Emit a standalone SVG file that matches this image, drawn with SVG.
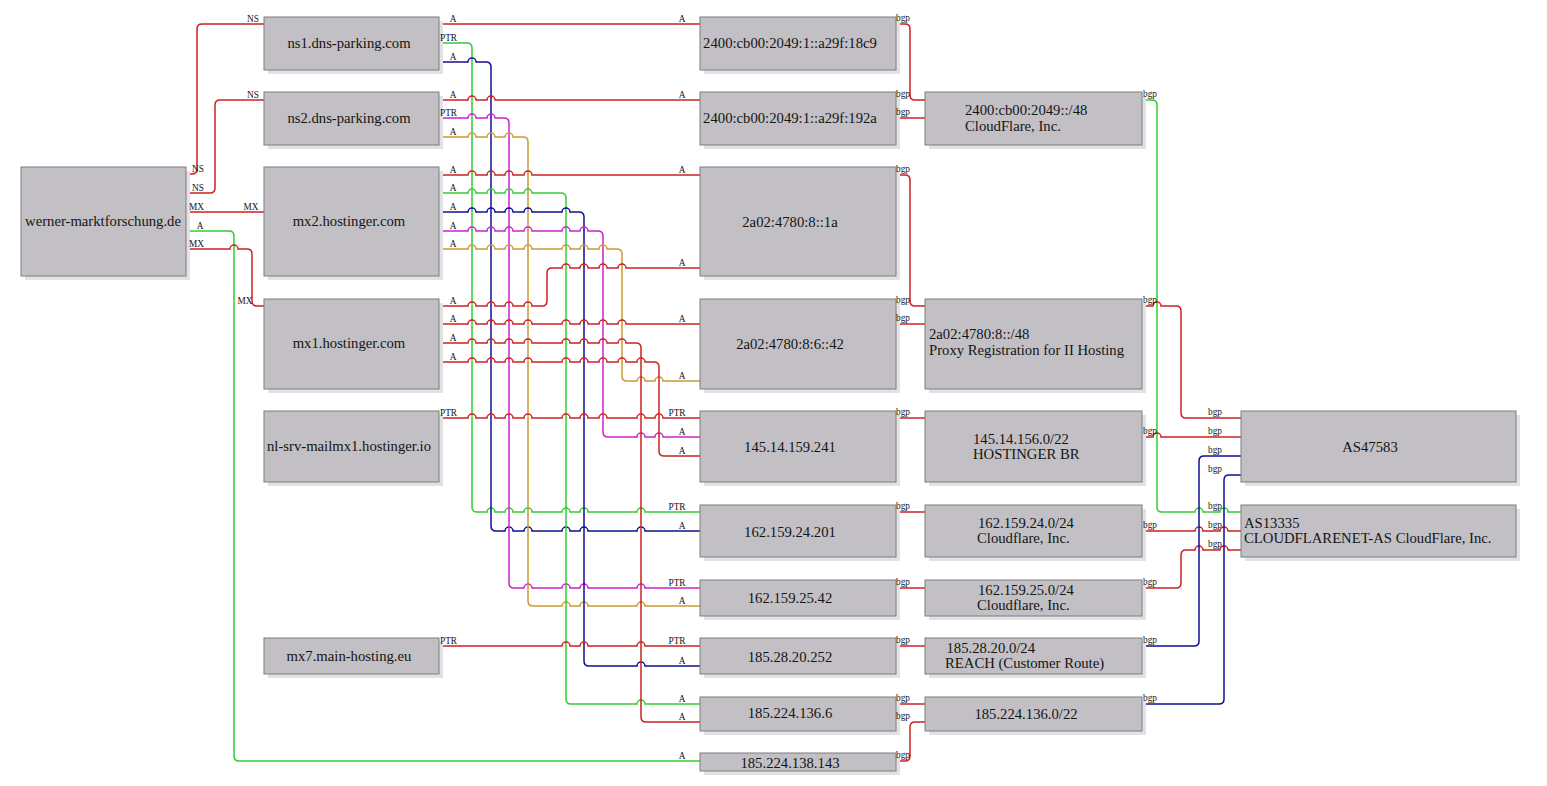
<svg xmlns="http://www.w3.org/2000/svg" width="1547" height="786" viewBox="0 0 1547 786">
<style>
.sh{fill:#e2e2e6}
.bx{fill:#c2c0c4;stroke:#7c7c7c;stroke-width:1}
text{font-family:"Liberation Serif","Times New Roman",serif;fill:#141414}
.n{font-size:14.7px}
.m{text-anchor:middle}
.e{font-size:9.3px;text-anchor:middle}
#connectors path{fill:none;stroke-width:1.5}
.r{stroke:#cc2222}
.g{stroke:#33cc33}
.b{stroke:#101090}
.p{stroke:#cc22cc}
.o{stroke:#cc9933}
</style>
<rect width="1547" height="786" fill="#ffffff"/>
<g id="connectors">
<path class="r" d="M186,174 H192 Q197,174 197,169 V29 Q197,24 202,24 H264"/>
<path class="r" d="M186,193 H210 Q215,193 215,188 V105 Q215,100 220,100 H264"/>
<path class="r" d="M186,212 H264"/>
<path class="g" d="M186,231 H229 Q234,231 234,236 V756 Q234,761 239,761 H700"/>
<path class="r" d="M186,249 H230 a4,4 0 0 1 8,0 H247 Q252,249 252,254 V301 Q252,306 257,306 H264"/>
<path class="r" d="M439,24 H700"/>
<path class="g" d="M439,43 H467 Q472,43 472,48 V507 Q472,512 477,512 H487 a4,4 0 0 1 8,0 H505 a4,4 0 0 1 8,0 H524 a4,4 0 0 1 8,0 H562 a4,4 0 0 1 8,0 H580 a4,4 0 0 1 8,0 H637 a4,4 0 0 1 8,0 H700"/>
<path class="b" d="M439,62 H468 a4,4 0 0 1 8,0 H486 Q491,62 491,67 V526 Q491,531 496,531 H505 a4,4 0 0 1 8,0 H524 a4,4 0 0 1 8,0 H562 a4,4 0 0 1 8,0 H580 a4,4 0 0 1 8,0 H637 a4,4 0 0 1 8,0 H700"/>
<path class="r" d="M439,100 H468 a4,4 0 0 1 8,0 H487 a4,4 0 0 1 8,0 H700"/>
<path class="p" d="M439,118 H468 a4,4 0 0 1 8,0 H487 a4,4 0 0 1 8,0 H504 Q509,118 509,123 V583 Q509,588 514,588 H524 a4,4 0 0 1 8,0 H562 a4,4 0 0 1 8,0 H580 a4,4 0 0 1 8,0 H637 a4,4 0 0 1 8,0 H700"/>
<path class="o" d="M439,137 H468 a4,4 0 0 1 8,0 H487 a4,4 0 0 1 8,0 H505 a4,4 0 0 1 8,0 H523 Q528,137 528,142 V601 Q528,606 533,606 H562 a4,4 0 0 1 8,0 H580 a4,4 0 0 1 8,0 H637 a4,4 0 0 1 8,0 H700"/>
<path class="r" d="M439,175 H468 a4,4 0 0 1 8,0 H487 a4,4 0 0 1 8,0 H505 a4,4 0 0 1 8,0 H524 a4,4 0 0 1 8,0 H700"/>
<path class="g" d="M439,193 H468 a4,4 0 0 1 8,0 H487 a4,4 0 0 1 8,0 H505 a4,4 0 0 1 8,0 H524 a4,4 0 0 1 8,0 H561 Q566,193 566,198 V699 Q566,704 571,704 H637 a4,4 0 0 1 8,0 H700"/>
<path class="b" d="M439,212 H468 a4,4 0 0 1 8,0 H487 a4,4 0 0 1 8,0 H505 a4,4 0 0 1 8,0 H524 a4,4 0 0 1 8,0 H562 a4,4 0 0 1 8,0 H579 Q584,212 584,217 V661 Q584,666 589,666 H637 a4,4 0 0 1 8,0 H700"/>
<path class="p" d="M439,231 H468 a4,4 0 0 1 8,0 H487 a4,4 0 0 1 8,0 H505 a4,4 0 0 1 8,0 H524 a4,4 0 0 1 8,0 H562 a4,4 0 0 1 8,0 H580 a4,4 0 0 1 8,0 H598 Q603,231 603,236 V432 Q603,437 608,437 H637 a4,4 0 0 1 8,0 H655 a4,4 0 0 1 8,0 H700"/>
<path class="o" d="M439,249 H468 a4,4 0 0 1 8,0 H487 a4,4 0 0 1 8,0 H505 a4,4 0 0 1 8,0 H524 a4,4 0 0 1 8,0 H562 a4,4 0 0 1 8,0 H580 a4,4 0 0 1 8,0 H599 a4,4 0 0 1 8,0 H617 Q622,249 622,254 V376 Q622,381 627,381 H637 a4,4 0 0 1 8,0 H655 a4,4 0 0 1 8,0 H700"/>
<path class="r" d="M439,306 H468 a4,4 0 0 1 8,0 H487 a4,4 0 0 1 8,0 H505 a4,4 0 0 1 8,0 H524 a4,4 0 0 1 8,0 H542 Q547,306 547,301 V273 Q547,268 552,268 H562 a4,4 0 0 1 8,0 H580 a4,4 0 0 1 8,0 H599 a4,4 0 0 1 8,0 H618 a4,4 0 0 1 8,0 H700"/>
<path class="r" d="M439,324 H468 a4,4 0 0 1 8,0 H487 a4,4 0 0 1 8,0 H505 a4,4 0 0 1 8,0 H524 a4,4 0 0 1 8,0 H562 a4,4 0 0 1 8,0 H580 a4,4 0 0 1 8,0 H599 a4,4 0 0 1 8,0 H618 a4,4 0 0 1 8,0 H700"/>
<path class="r" d="M439,343 H468 a4,4 0 0 1 8,0 H487 a4,4 0 0 1 8,0 H505 a4,4 0 0 1 8,0 H524 a4,4 0 0 1 8,0 H562 a4,4 0 0 1 8,0 H580 a4,4 0 0 1 8,0 H599 a4,4 0 0 1 8,0 H618 a4,4 0 0 1 8,0 H636 Q641,343 641,348 V717 Q641,722 646,722 H700"/>
<path class="r" d="M439,362 H468 a4,4 0 0 1 8,0 H487 a4,4 0 0 1 8,0 H505 a4,4 0 0 1 8,0 H524 a4,4 0 0 1 8,0 H562 a4,4 0 0 1 8,0 H580 a4,4 0 0 1 8,0 H599 a4,4 0 0 1 8,0 H618 a4,4 0 0 1 8,0 H637 a4,4 0 0 1 8,0 H654 Q659,362 659,367 V451 Q659,456 664,456 H700"/>
<path class="r" d="M439,418 H468 a4,4 0 0 1 8,0 H487 a4,4 0 0 1 8,0 H505 a4,4 0 0 1 8,0 H524 a4,4 0 0 1 8,0 H562 a4,4 0 0 1 8,0 H580 a4,4 0 0 1 8,0 H599 a4,4 0 0 1 8,0 H637 a4,4 0 0 1 8,0 H655 a4,4 0 0 1 8,0 H700"/>
<path class="r" d="M439,646 H562 a4,4 0 0 1 8,0 H580 a4,4 0 0 1 8,0 H637 a4,4 0 0 1 8,0 H700"/>
<path class="r" d="M896,24 H905 Q910,24 910,29 V95 Q910,100 915,100 H925"/>
<path class="r" d="M896,118 H925"/>
<path class="r" d="M896,175 H905 Q910,175 910,180 V301 Q910,306 915,306 H925"/>
<path class="r" d="M896,324 H925"/>
<path class="r" d="M896,418 H925"/>
<path class="r" d="M896,512 H925"/>
<path class="r" d="M896,588 H925"/>
<path class="r" d="M896,646 H925"/>
<path class="r" d="M896,704 H925"/>
<path class="r" d="M896,761 H905 Q910,761 910,756 V727 Q910,722 915,722 H925"/>
<path class="g" d="M1142,100 H1152 Q1157,100 1157,105 V507 Q1157,512 1162,512 H1195 a4,4 0 0 1 8,0 H1220 a4,4 0 0 1 8,0 H1241"/>
<path class="r" d="M1142,306 H1153 a4,4 0 0 1 8,0 H1176 Q1181,306 1181,311 V413 Q1181,418 1186,418 H1241"/>
<path class="r" d="M1142,437 H1153 a4,4 0 0 1 8,0 H1241"/>
<path class="r" d="M1142,531 H1195 a4,4 0 0 1 8,0 H1220 a4,4 0 0 1 8,0 H1241"/>
<path class="r" d="M1142,588 H1176 Q1181,588 1181,583 V555 Q1181,550 1186,550 H1195 a4,4 0 0 1 8,0 H1220 a4,4 0 0 1 8,0 H1241"/>
<path class="b" d="M1142,646 H1194 Q1199,646 1199,641 V461 Q1199,456 1204,456 H1241"/>
<path class="b" d="M1142,704 H1219 Q1224,704 1224,699 V480 Q1224,475 1229,475 H1241"/>
</g>
<g id="werner"><rect class="sh" x="25" y="171" width="165" height="109"/><rect class="bx" x="21" y="167" width="165" height="109"/><text class="n m" x="103" y="226">werner-marktforschung.de</text></g>
<g id="ns1"><rect class="sh" x="268" y="21" width="175" height="53"/><rect class="bx" x="264" y="17" width="175" height="53"/><text class="n m" x="349" y="48">ns1.dns-parking.com</text></g>
<g id="ns2"><rect class="sh" x="268" y="96" width="175" height="53"/><rect class="bx" x="264" y="92" width="175" height="53"/><text class="n m" x="349" y="123">ns2.dns-parking.com</text></g>
<g id="mx2"><rect class="sh" x="268" y="171" width="175" height="109"/><rect class="bx" x="264" y="167" width="175" height="109"/><text class="n m" x="349" y="226">mx2.hostinger.com</text></g>
<g id="mx1"><rect class="sh" x="268" y="303" width="175" height="90"/><rect class="bx" x="264" y="299" width="175" height="90"/><text class="n m" x="349" y="348">mx1.hostinger.com</text></g>
<g id="nlsrv"><rect class="sh" x="268" y="415" width="175" height="71"/><rect class="bx" x="264" y="411" width="175" height="71"/><text class="n m" x="349" y="451">nl-srv-mailmx1.hostinger.io</text></g>
<g id="mx7"><rect class="sh" x="268" y="642" width="175" height="36"/><rect class="bx" x="264" y="638" width="175" height="36"/><text class="n m" x="349" y="661">mx7.main-hosting.eu</text></g>
<g id="ip6-18c9"><rect class="sh" x="704" y="21" width="196" height="53"/><rect class="bx" x="700" y="17" width="196" height="53"/><text class="n m" x="790" y="48">2400:cb00:2049:1::a29f:18c9</text></g>
<g id="ip6-192a"><rect class="sh" x="704" y="96" width="196" height="53"/><rect class="bx" x="700" y="92" width="196" height="53"/><text class="n m" x="790" y="123">2400:cb00:2049:1::a29f:192a</text></g>
<g id="ip6-1a"><rect class="sh" x="704" y="171" width="196" height="109"/><rect class="bx" x="700" y="167" width="196" height="109"/><text class="n m" x="790" y="227">2a02:4780:8::1a</text></g>
<g id="ip6-42"><rect class="sh" x="704" y="303" width="196" height="90"/><rect class="bx" x="700" y="299" width="196" height="90"/><text class="n m" x="790" y="349">2a02:4780:8:6::42</text></g>
<g id="ip-145-241"><rect class="sh" x="704" y="415" width="196" height="71"/><rect class="bx" x="700" y="411" width="196" height="71"/><text class="n m" x="790" y="452">145.14.159.241</text></g>
<g id="ip-162-201"><rect class="sh" x="704" y="509" width="196" height="52"/><rect class="bx" x="700" y="505" width="196" height="52"/><text class="n m" x="790" y="537">162.159.24.201</text></g>
<g id="ip-162-42"><rect class="sh" x="704" y="584" width="196" height="36"/><rect class="bx" x="700" y="580" width="196" height="36"/><text class="n m" x="790" y="603">162.159.25.42</text></g>
<g id="ip-185-252"><rect class="sh" x="704" y="642" width="196" height="36"/><rect class="bx" x="700" y="638" width="196" height="36"/><text class="n m" x="790" y="662">185.28.20.252</text></g>
<g id="ip-185-6"><rect class="sh" x="704" y="701" width="196" height="34"/><rect class="bx" x="700" y="697" width="196" height="34"/><text class="n m" x="790" y="718">185.224.136.6</text></g>
<g id="ip-185-143"><rect class="sh" x="704" y="757" width="196" height="18"/><rect class="bx" x="700" y="753" width="196" height="18"/><text class="n m" x="790" y="768">185.224.138.143</text></g>
<g id="pfx-2400"><rect class="sh" x="929" y="96" width="217" height="53"/><rect class="bx" x="925" y="92" width="217" height="53"/><text class="n" x="965" y="115">2400:cb00:2049::/48</text><text class="n" x="965" y="131">CloudFlare, Inc.</text></g>
<g id="pfx-2a02"><rect class="sh" x="929" y="303" width="217" height="90"/><rect class="bx" x="925" y="299" width="217" height="90"/><text class="n" x="929" y="339">2a02:4780:8::/48</text><text class="n" x="929" y="355">Proxy Registration for II Hosting</text></g>
<g id="pfx-145"><rect class="sh" x="929" y="415" width="217" height="71"/><rect class="bx" x="925" y="411" width="217" height="71"/><text class="n" x="973" y="444">145.14.156.0/22</text><text class="n" x="973" y="459">HOSTINGER BR</text></g>
<g id="pfx-162-24"><rect class="sh" x="929" y="509" width="217" height="52"/><rect class="bx" x="925" y="505" width="217" height="52"/><text class="n" x="978" y="528">162.159.24.0/24</text><text class="n" x="977" y="543">Cloudflare, Inc.</text></g>
<g id="pfx-162-25"><rect class="sh" x="929" y="584" width="217" height="36"/><rect class="bx" x="925" y="580" width="217" height="36"/><text class="n" x="978" y="595">162.159.25.0/24</text><text class="n" x="977" y="610">Cloudflare, Inc.</text></g>
<g id="pfx-185-28"><rect class="sh" x="929" y="642" width="217" height="36"/><rect class="bx" x="925" y="638" width="217" height="36"/><text class="n" x="946.5" y="653">185.28.20.0/24</text><text class="n" x="945" y="668">REACH (Customer Route)</text></g>
<g id="pfx-185-224"><rect class="sh" x="929" y="701" width="217" height="34"/><rect class="bx" x="925" y="697" width="217" height="34"/><text class="n m" x="1026" y="719">185.224.136.0/22</text></g>
<g id="as47583"><rect class="sh" x="1245" y="415" width="275" height="71"/><rect class="bx" x="1241" y="411" width="275" height="71"/><text class="n m" x="1370" y="452">AS47583</text></g>
<g id="as13335"><rect class="sh" x="1245" y="509" width="275" height="52"/><rect class="bx" x="1241" y="505" width="275" height="52"/><text class="n" x="1244" y="528">AS13335</text><text class="n" x="1244" y="543">CLOUDFLARENET-AS CloudFlare, Inc.</text></g>
<g id="edge-labels">
<text class="e" x="198" y="172">NS</text><text class="e" x="253" y="22">NS</text>
<text class="e" x="198" y="191">NS</text><text class="e" x="253" y="98">NS</text>
<text class="e" x="196.5" y="210">MX</text><text class="e" x="251" y="210">MX</text>
<text class="e" x="200" y="229">A</text><text class="e" x="682" y="759">A</text>
<text class="e" x="196.5" y="247">MX</text><text class="e" x="245" y="304">MX</text>
<text class="e" x="453" y="22">A</text><text class="e" x="682" y="22">A</text>
<text class="e" x="448.5" y="41">PTR</text><text class="e" x="677" y="510">PTR</text>
<text class="e" x="453" y="60">A</text><text class="e" x="682" y="529">A</text>
<text class="e" x="453" y="98">A</text><text class="e" x="682" y="98">A</text>
<text class="e" x="448.5" y="116">PTR</text><text class="e" x="677" y="586">PTR</text>
<text class="e" x="453" y="135">A</text><text class="e" x="682" y="604">A</text>
<text class="e" x="453" y="173">A</text><text class="e" x="682" y="173">A</text>
<text class="e" x="453" y="191">A</text><text class="e" x="682" y="702">A</text>
<text class="e" x="453" y="210">A</text><text class="e" x="682" y="664">A</text>
<text class="e" x="453" y="229">A</text><text class="e" x="682" y="435">A</text>
<text class="e" x="453" y="247">A</text><text class="e" x="682" y="379">A</text>
<text class="e" x="453" y="304">A</text><text class="e" x="682" y="266">A</text>
<text class="e" x="453" y="322">A</text><text class="e" x="682" y="322">A</text>
<text class="e" x="453" y="341">A</text><text class="e" x="682" y="720">A</text>
<text class="e" x="453" y="360">A</text><text class="e" x="682" y="454">A</text>
<text class="e" x="448.5" y="416">PTR</text><text class="e" x="677" y="416">PTR</text>
<text class="e" x="448.5" y="644">PTR</text><text class="e" x="677" y="644">PTR</text>
<text class="e" x="903" y="21">bgp</text><text class="e" x="903" y="97">bgp</text>
<text class="e" x="903" y="115">bgp</text>
<text class="e" x="903" y="172">bgp</text><text class="e" x="903" y="303">bgp</text>
<text class="e" x="903" y="321">bgp</text>
<text class="e" x="903" y="415">bgp</text>
<text class="e" x="903" y="509">bgp</text>
<text class="e" x="903" y="585">bgp</text>
<text class="e" x="903" y="643">bgp</text>
<text class="e" x="903" y="701">bgp</text>
<text class="e" x="903" y="758">bgp</text><text class="e" x="903" y="719">bgp</text>
<text class="e" x="1150" y="97">bgp</text><text class="e" x="1215" y="509">bgp</text>
<text class="e" x="1150" y="303">bgp</text><text class="e" x="1215" y="415">bgp</text>
<text class="e" x="1150" y="434">bgp</text><text class="e" x="1215" y="434">bgp</text>
<text class="e" x="1150" y="528">bgp</text><text class="e" x="1215" y="528">bgp</text>
<text class="e" x="1150" y="585">bgp</text><text class="e" x="1215" y="547">bgp</text>
<text class="e" x="1150" y="643">bgp</text><text class="e" x="1215" y="453">bgp</text>
<text class="e" x="1150" y="701">bgp</text><text class="e" x="1215" y="472">bgp</text>
</g>
</svg>
